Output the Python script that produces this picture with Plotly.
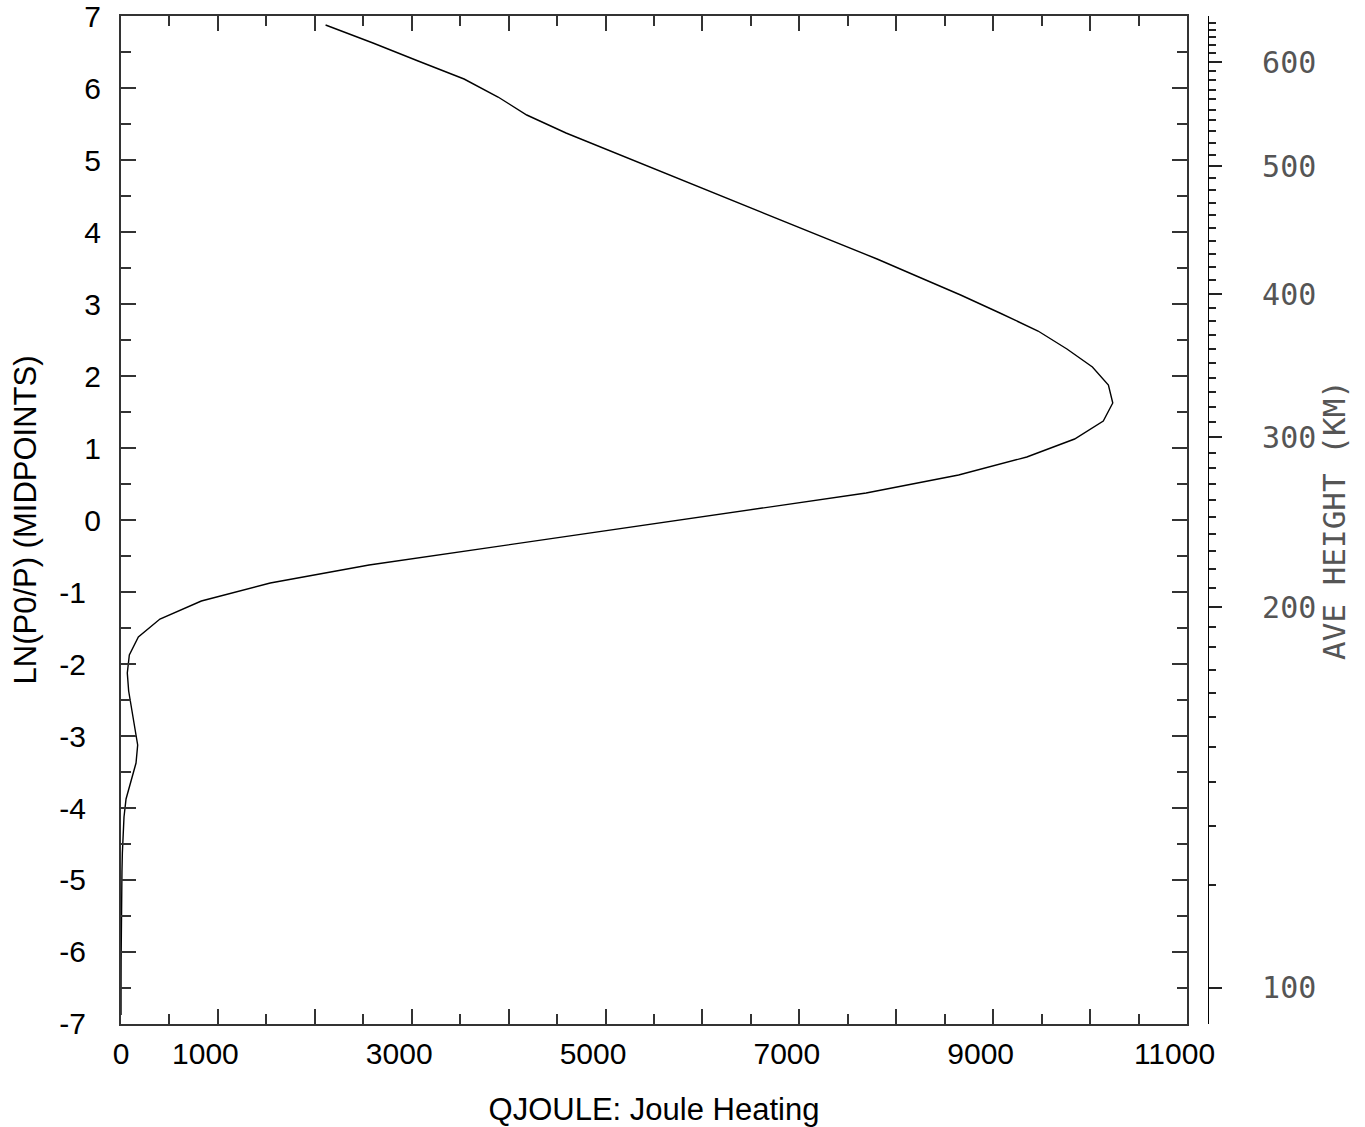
import plotly.graph_objects as go

# ---- data ----
ln_levels = [6.875, 6.625, 6.375, 6.125, 5.875, 5.625, 5.375, 5.125, 4.875, 4.625,
             4.375, 4.125, 3.875, 3.625, 3.375, 3.125, 2.875, 2.625, 2.375, 2.125,
             1.875, 1.625, 1.375, 1.125, 0.875, 0.625, 0.375, 0.125, -0.125, -0.375,
             -0.625, -0.875, -1.125, -1.375, -1.625, -1.875, -2.125, -2.375, -2.625, -2.875,
             -3.125, -3.375, -3.625, -3.875, -4.125, -4.375, -4.625, -4.875, -5.125, -5.375,
             -5.625, -5.875, -6.125, -6.375, -6.625, -6.875]
qjoule = [2111, 2600, 3066, 3540, 3891, 4187, 4592, 5053, 5514, 5976,
          6437, 6898, 7359, 7802, 8232, 8664, 9069, 9463, 9761, 10024,
          10189, 10234, 10136, 9840, 9347, 8643, 7689, 6406, 5144, 3808,
          2560, 1540, 829, 402, 179, 86, 65, 79, 110, 144,
          172, 155, 104, 52, 31, 21, 14, 10, 7, 5,
          3, 2, 1, 0.5, 0.2, 0.1]

# height axis (km) and its position in ln(p0/p)
height_km = [650, 640, 630, 620, 610, 600, 590, 580, 570, 560, 550, 540, 530, 520, 510,
             500, 490, 480, 470, 460, 450, 440, 430, 420, 410, 400, 390, 380, 370, 360,
             350, 340, 330, 320, 310, 300, 290, 280, 270, 260, 250, 240, 230, 220, 210,
             200, 190, 180, 170, 160, 150, 140, 130, 120, 110, 100]
height_ln = [6.908, 6.811, 6.708, 6.603, 6.491, 6.361, 6.236, 6.107, 5.977, 5.843,
             5.699, 5.551, 5.398, 5.235, 5.074, 4.916, 4.749, 4.578, 4.407, 4.231,
             4.054, 3.874, 3.689, 3.512, 3.328, 3.133, 2.948, 2.758, 2.563, 2.369,
             2.174, 1.970, 1.771, 1.567, 1.359, 1.150, 0.934, 0.720, 0.497, 0.271,
             0.039, -0.192, -0.434, -0.684, -0.942, -1.212, -1.490, -1.768, -2.082, -2.401,
             -2.731, -3.157, -3.634, -4.245, -5.069, -6.500]

x_tickvals = list(range(0, 11001, 1000))
x_ticklabels = ["0", "1000", "", "3000", "", "5000", "", "7000", "", "9000", "", "11000"]
y_tickvals = list(range(-7, 8))

NB = "\u00a0"
x_ticktext = [t + (NB * 3 if len(t) > 1 else "") for t in x_ticklabels]
y_ticktext = [f"{v}\u2002" if v < 0 else f"{v}" for v in y_tickvals]

h_major_vals = [v for h, v in zip(height_km, height_ln) if h % 100 == 0]
h_major_text = [str(h) for h in height_km if h % 100 == 0]
h_minor_vals = [v for h, v in zip(height_km, height_ln) if h % 100 != 0]

# ---- figure (page body margin removed in post_script) ----
W, H = 1365, 1127
L, T = 121, 16
plot_right = 1187
height_axis_x = 1208
plot_bottom = 1024
R = W - height_axis_x
B = H - plot_bottom
paper_w = height_axis_x - L
x_dom_end = (plot_right - L) / paper_w

fig = go.Figure()
fig.add_trace(go.Scatter(x=qjoule, y=ln_levels, mode="lines",
                         line=dict(color="black", width=1.4),
                         showlegend=False, hoverinfo="x+y"))
# carrier trace for the height axis (invisible)
fig.add_trace(go.Scatter(x=qjoule, y=ln_levels, yaxis="y2", mode="markers",
                         marker=dict(opacity=0), showlegend=False, hoverinfo="skip"))

tick_font = dict(family="Liberation Sans, Arial, sans-serif", size=30, color="black")
title_font = dict(family="Liberation Sans, Arial, sans-serif", size=31, color="black")
mono_font = dict(family="DejaVu Sans Mono, monospace", size=30, color="#555")

EPS = 1e-4
fig.update_layout(
    width=W, height=H,
    margin=dict(l=L, r=R, t=T, b=B, autoexpand=False),
    paper_bgcolor="white", plot_bgcolor="white",
    xaxis=dict(
        domain=[0, x_dom_end], range=[0, 11000 + EPS], automargin=False,
        showgrid=False, zeroline=False,
        showline=True, linecolor="#333", linewidth=2, mirror="ticks",
        ticks="inside", ticklen=15, tickwidth=1.5, tickcolor="#333",
        tickmode="array", tickvals=x_tickvals, ticktext=x_ticktext,
        tickfont=tick_font, ticklabelstandoff=2, ticklabeloverflow="allow",
        minor=dict(ticks="inside", ticklen=10, tickwidth=1.5, tickcolor="#333",
                   dtick=500, tick0=0, showgrid=False),
        title=dict(text="QJOULE: Joule Heating", font=title_font, standoff=30),
    ),
    yaxis=dict(
        range=[-7 - EPS, 7 + EPS], automargin=False,
        showgrid=False, zeroline=False,
        showline=True, linecolor="#333", linewidth=2, mirror="ticks",
        ticks="inside", ticklen=15, tickwidth=1.5, tickcolor="#333",
        tickmode="array", tickvals=y_tickvals, ticktext=y_ticktext,
        tickfont=tick_font, ticklabelstandoff=12, ticklabeloverflow="allow",
        minor=dict(ticks="inside", ticklen=10, tickwidth=1.5, tickcolor="#333",
                   dtick=0.5, tick0=0, showgrid=False),
        title=dict(text="LN(P0/P) (MIDPOINTS)", font=title_font, standoff=13),
    ),
    yaxis2=dict(
        overlaying="y", side="right", anchor="free", position=1.0,
        range=[-7 - EPS, 7 + EPS], automargin=False,
        showgrid=False, zeroline=False,
        showline=True, linecolor="black", linewidth=1.2,
        ticks="outside", ticklen=13, tickwidth=1.5, tickcolor="#222",
        tickmode="array", tickvals=h_major_vals, ticktext=h_major_text,
        tickfont=mono_font, ticklabelstandoff=34, ticklabeloverflow="allow",
        minor=dict(ticks="outside", ticklen=7, tickwidth=1.5, tickcolor="#222",
                   tickmode="array", tickvals=h_minor_vals, showgrid=False),
        title=dict(text="AVE HEIGHT (KM)", font=dict(family="DejaVu Sans Mono, monospace",
                                                     size=31, color="#555"), standoff=4),
    ),
)

fig.write_html("out.html", config={"displayModeBar": False},
               post_script="document.body.style.margin='0';")
